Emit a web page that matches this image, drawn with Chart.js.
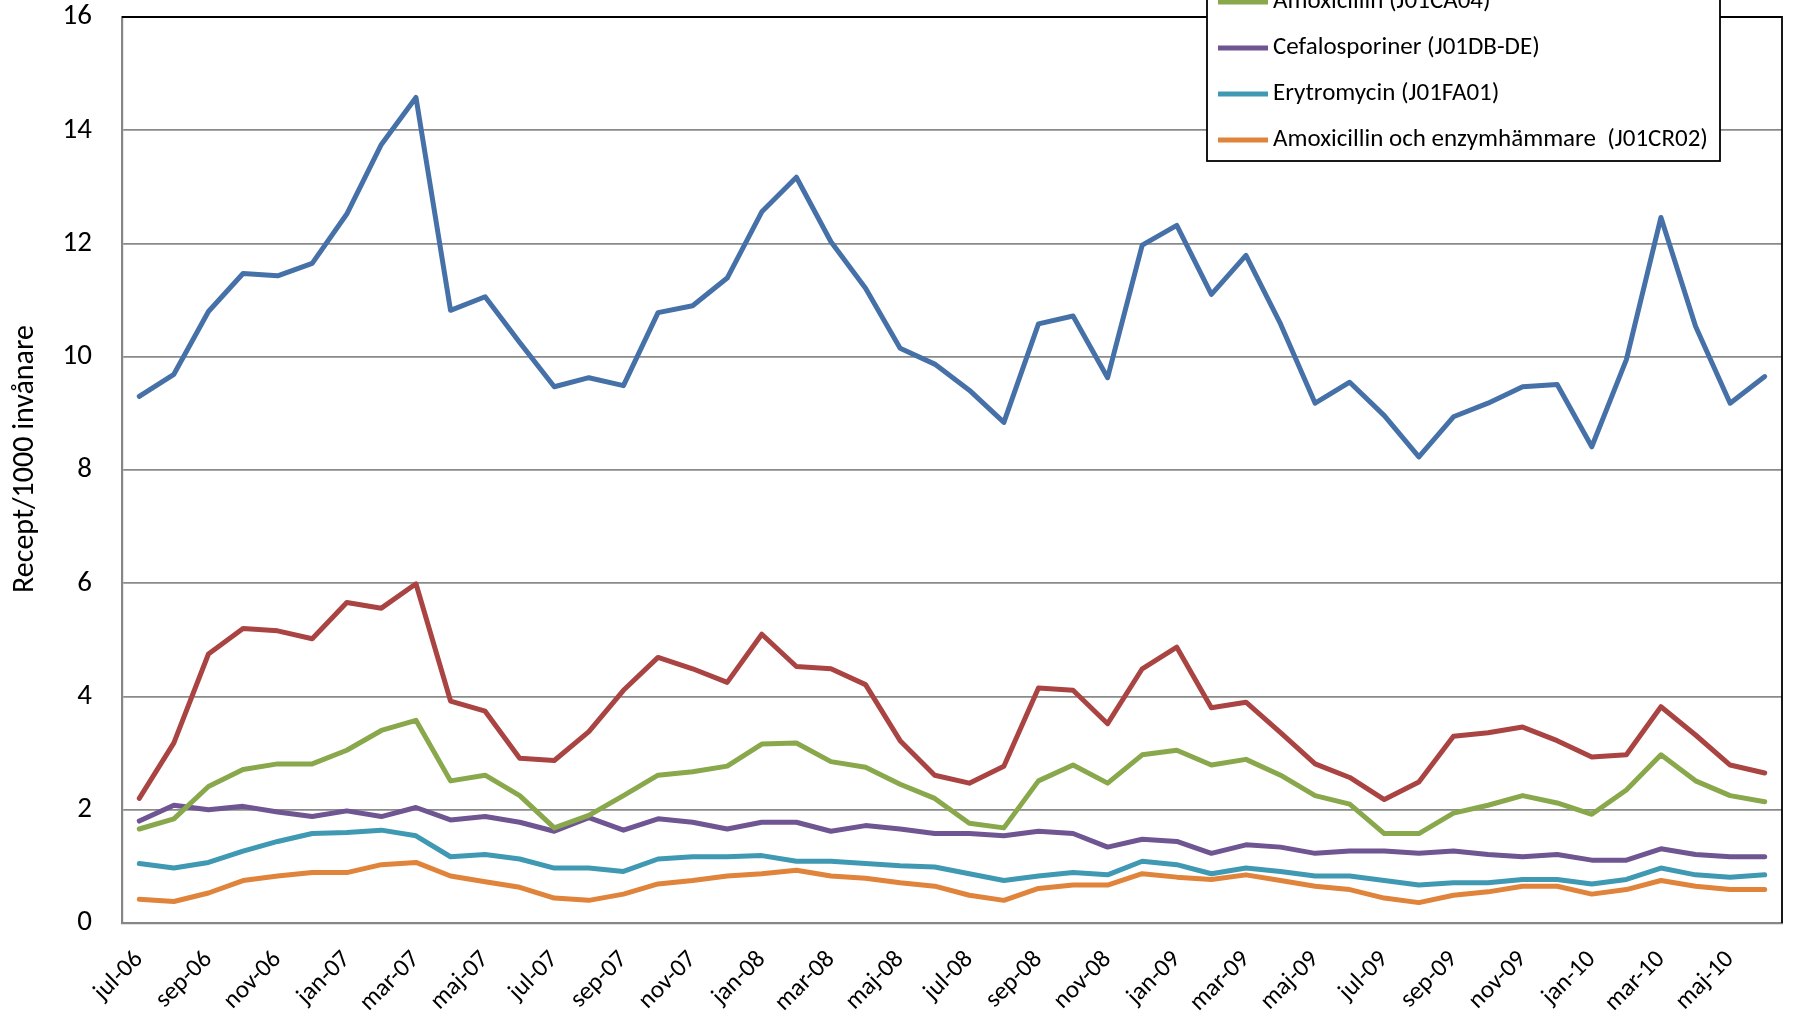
<!DOCTYPE html>
<html>
<head>
<meta charset="utf-8">
<script src="https://cdn.jsdelivr.net/npm/chart.js@4.4.1/dist/chart.umd.min.js"></script>
<style>
  html, body { margin: 0; padding: 0; background: #fff; }
  #wrap { width: 1795px; height: 1016px; }
</style>
</head>
<body>
<div id="wrap"><canvas id="lineChart" width="1795" height="1016"></canvas></div>
<script>
// months jul-06 .. jun-10
const months = ['jul-06','aug-06','sep-06','okt-06','nov-06','dec-06','jan-07','feb-07','mar-07','apr-07','maj-07','jun-07',
  'jul-07','aug-07','sep-07','okt-07','nov-07','dec-07','jan-08','feb-08','mar-08','apr-08','maj-08','jun-08',
  'jul-08','aug-08','sep-08','okt-08','nov-08','dec-08','jan-09','feb-09','mar-09','apr-09','maj-09','jun-09',
  'jul-09','aug-09','sep-09','okt-09','nov-09','dec-09','jan-10','feb-10','mar-10','apr-10','maj-10','jun-10'];

const seriesNames = ['Totalt (J01 exkl. metenamin)', 'Penicillin V (J01CE02)', 'Amoxicillin (J01CA04)',
  'Cefalosporiner (J01DB-DE)', 'Erytromycin (J01FA01)', 'Amoxicillin och enzymhämmare  (J01CR02)'];

const yTitle = 'Recept/1000 invånare';

const totalt = [9.30, 9.69, 10.80, 11.47, 11.43, 11.65, 12.52, 13.75, 14.58, 10.82, 11.06, 10.25,
  9.47, 9.63, 9.49, 10.78, 10.90, 11.39, 12.56, 13.17, 12.03, 11.21, 10.15, 9.87,
  9.41, 8.84, 10.58, 10.72, 9.63, 11.97, 12.32, 11.10, 11.79, 10.58, 9.18, 9.55,
  8.96, 8.23, 8.94, 9.18, 9.47, 9.51, 8.41, 9.95, 12.46, 10.54, 9.18, 9.65];

const pcv = [2.20, 3.18, 4.75, 5.20, 5.16, 5.02, 5.66, 5.56, 5.99, 3.92, 3.74, 2.91,
  2.87, 3.38, 4.11, 4.69, 4.49, 4.25, 5.10, 4.53, 4.49, 4.21, 3.22, 2.61,
  2.47, 2.77, 4.15, 4.11, 3.52, 4.49, 4.87, 3.80, 3.90, 3.36, 2.81, 2.57,
  2.18, 2.49, 3.30, 3.36, 3.46, 3.22, 2.93, 2.97, 3.82, 3.32, 2.79, 2.65];

const amoxicillin = [1.66, 1.84, 2.41, 2.71, 2.81, 2.81, 3.05, 3.40, 3.58, 2.51, 2.61, 2.25,
  1.68, 1.90, 2.25, 2.61, 2.67, 2.77, 3.16, 3.18, 2.85, 2.75, 2.45, 2.20,
  1.76, 1.68, 2.51, 2.79, 2.47, 2.97, 3.05, 2.79, 2.89, 2.61, 2.25, 2.10,
  1.58, 1.58, 1.94, 2.08, 2.25, 2.12, 1.92, 2.35, 2.97, 2.51, 2.25, 2.14];

const cefalosporiner = [1.80, 2.08, 2.00, 2.06, 1.96, 1.88, 1.98, 1.88, 2.04, 1.82, 1.88, 1.78,
  1.62, 1.86, 1.64, 1.84, 1.78, 1.66, 1.78, 1.78, 1.62, 1.72, 1.66, 1.58,
  1.58, 1.54, 1.62, 1.58, 1.34, 1.48, 1.44, 1.23, 1.38, 1.34, 1.23, 1.27,
  1.27, 1.23, 1.27, 1.21, 1.17, 1.21, 1.11, 1.11, 1.31, 1.21, 1.17, 1.17];

const erytromycin = [1.05, 0.97, 1.07, 1.27, 1.44, 1.58, 1.60, 1.64, 1.54, 1.17, 1.21, 1.13,
  0.97, 0.97, 0.91, 1.13, 1.17, 1.17, 1.19, 1.09, 1.09, 1.05, 1.01, 0.99,
  0.87, 0.75, 0.83, 0.89, 0.85, 1.09, 1.03, 0.87, 0.97, 0.91, 0.83, 0.83,
  0.75, 0.67, 0.71, 0.71, 0.77, 0.77, 0.69, 0.77, 0.97, 0.85, 0.81, 0.85];

const amoxEnzym = [0.42, 0.38, 0.53, 0.75, 0.83, 0.89, 0.89, 1.03, 1.07, 0.83, 0.73, 0.63,
  0.44, 0.40, 0.51, 0.69, 0.75, 0.83, 0.87, 0.93, 0.83, 0.79, 0.71, 0.65,
  0.49, 0.40, 0.61, 0.67, 0.67, 0.87, 0.81, 0.77, 0.85, 0.75, 0.65, 0.59,
  0.44, 0.36, 0.49, 0.55, 0.65, 0.65, 0.51, 0.59, 0.75, 0.65, 0.59, 0.59];

const colors = ['#4571a8', '#a94442', '#88a84b', '#6f5591', '#3f99b3', '#e0833b'];
const yTicks = [0, 2, 4, 6, 8, 10, 12, 14, 16];

const FONT = 'Carlito, Calibri, Lato, sans-serif';

// frame on top/right, y title, legend box partly above the canvas
const frameAndLegend = {
  id: 'frameAndLegend',
  afterDraw(chart) {
    const ctx = chart.ctx;
    const a = chart.chartArea;
    ctx.save();
    ctx.strokeStyle = '#000';
    ctx.lineWidth = 1.8;
    ctx.beginPath();
    ctx.moveTo(a.left, a.top);
    ctx.lineTo(a.right, a.top);
    ctx.lineTo(a.right, a.bottom);
    ctx.stroke();

    // y axis title
    ctx.save();
    ctx.translate(25, 459);
    ctx.rotate(-Math.PI / 2);
    ctx.font = '30px ' + FONT;
    ctx.fillStyle = '#000';
    ctx.textAlign = 'center';
    ctx.textBaseline = 'middle';
    ctx.fillText(yTitle, 0, 0);
    ctx.restore();

    // legend
    const boxL = 1207, boxR = 1720, boxB = 161, rowH = 46;
    const n = chart.data.datasets.length;
    const firstY = boxB - 21 - (n - 1) * rowH;
    ctx.fillStyle = '#fff';
    ctx.fillRect(boxL, firstY - 26, boxR - boxL, boxB - firstY + 26);
    ctx.strokeStyle = '#000';
    ctx.lineWidth = 1.8;
    ctx.strokeRect(boxL, firstY - 26, boxR - boxL, boxB - firstY + 26);
    ctx.font = '25px ' + FONT;
    ctx.textBaseline = 'middle';
    ctx.textAlign = 'left';
    chart.data.datasets.forEach((ds, i) => {
      const y = firstY + i * rowH;
      ctx.strokeStyle = ds.borderColor;
      ctx.lineWidth = 4.8;
      ctx.beginPath();
      ctx.moveTo(1218, y);
      ctx.lineTo(1268, y);
      ctx.stroke();
      ctx.fillStyle = '#000';
      ctx.fillText(ds.label, 1273, y);
    });
    ctx.restore();
  }
};

const seriesValues = [totalt, pcv, amoxicillin, cefalosporiner, erytromycin, amoxEnzym];

const lineChart = new Chart(document.getElementById('lineChart').getContext('2d'), {
  type: 'line',
  data: {
    labels: months,
    datasets: seriesValues.map((vals, i) => ({
      label: seriesNames[i],
      data: vals,
      borderColor: colors[i],
      backgroundColor: colors[i],
      borderWidth: 5,
      pointRadius: 0,
      tension: 0,
      fill: false,
      borderJoinStyle: 'round',
      borderCapStyle: 'round'
    }))
  },
  options: {
    responsive: false,
    animation: false,
    layout: { padding: { top: 17, right: 13, left: 0, bottom: 0 } },
    plugins: {
      legend: { display: false },
      tooltip: { enabled: false }
    },
    scales: {
      x: {
        offset: true,
        grid: { display: false, drawTicks: false },
        border: { display: true, color: '#868686', width: 2.2 },
        ticks: {
          autoSkip: false,
          maxRotation: 45,
          minRotation: 45,
          padding: 22,
          color: '#000',
          font: { family: FONT, size: 25 },
          callback: function (val, idx) { return idx % 2 === 0 ? this.getLabelForValue(val) : ''; }
        },
        afterFit: (scale) => { scale.height = 93; scale.paddingLeft = 0; scale.paddingRight = 0; }
      },
      y: {
        min: 0,
        max: 16,
        afterBuildTicks: (scale) => { scale.ticks = yTicks.map(v => ({ value: v })); },
        grid: { color: '#8a8a8a', lineWidth: 1.8, drawTicks: false },
        border: { display: true, color: '#868686', width: 2.2 },
        ticks: {
          padding: 30,
          color: '#000',
          font: { family: FONT, size: 29 }
        },
        afterFit: (scale) => { scale.width = 122; scale.paddingTop = 0; scale.paddingBottom = 0; }
      }
    }
  },
  plugins: [frameAndLegend]
});
</script>
</body>
</html>
